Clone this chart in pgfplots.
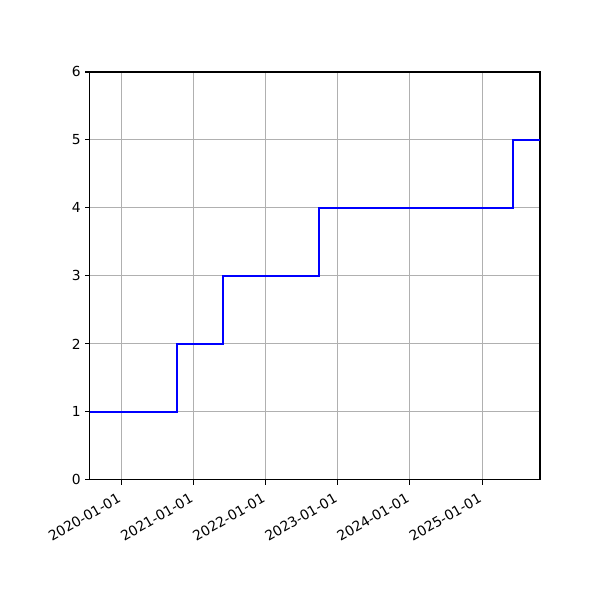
\documentclass[border=0pt]{standalone}
\usepackage{pgfplots}
\pgfplotsset{compat=1.18}
\usetikzlibrary{calc}
\usepackage{fontspec}
\setmainfont{DejaVu Sans}

% x values: days since 2020-01-01
\begin{document}
\begin{tikzpicture}
\begin{axis}[
    scale only axis,
    width=325.2pt, height=294.8pt,
    xmin=-158, xmax=2120,
    ymin=0, ymax=6,
    xtick={0,366,731,1096,1461,1827},
    xticklabels={2020-01-01,2021-01-01,2022-01-01,2023-01-01,2024-01-01,2025-01-01},
    ytick={0,1,2,3,4,5,6},
    x tick label style={rotate=30, anchor=north east, inner sep=1pt, yshift=-2pt, xshift=-4.5pt},
    y tick label style={inner sep=1pt, xshift=-2pt},
    tick label style={font=\fontsize{10}{12}\selectfont},
    /pgf/number format/assume math mode=true,
    tick align=outside,
    major tick length=3.5pt,
    xtick pos=bottom, ytick pos=left,
    grid=major,
    grid style={color=black!31, line width=0.8pt},
    axis line style={line width=0.8pt},
    every tick/.style={black, line width=0.8pt},
]
\addplot[const plot mark left, color=blue, line width=1.5pt, no marks]
    coordinates {
        (-158,1)(285,2)(516,3)(1002,4)(1982,5)(2120,5)
    };
\coordinate (sw) at (rel axis cs:0,0);
\coordinate (ne) at (rel axis cs:1,1);
\end{axis}
\path[use as bounding box] ($(sw)+(-65pt,-86.7pt)$) rectangle ($(ne)+(43.4pt,52pt)$);
\end{tikzpicture}
\end{document}
